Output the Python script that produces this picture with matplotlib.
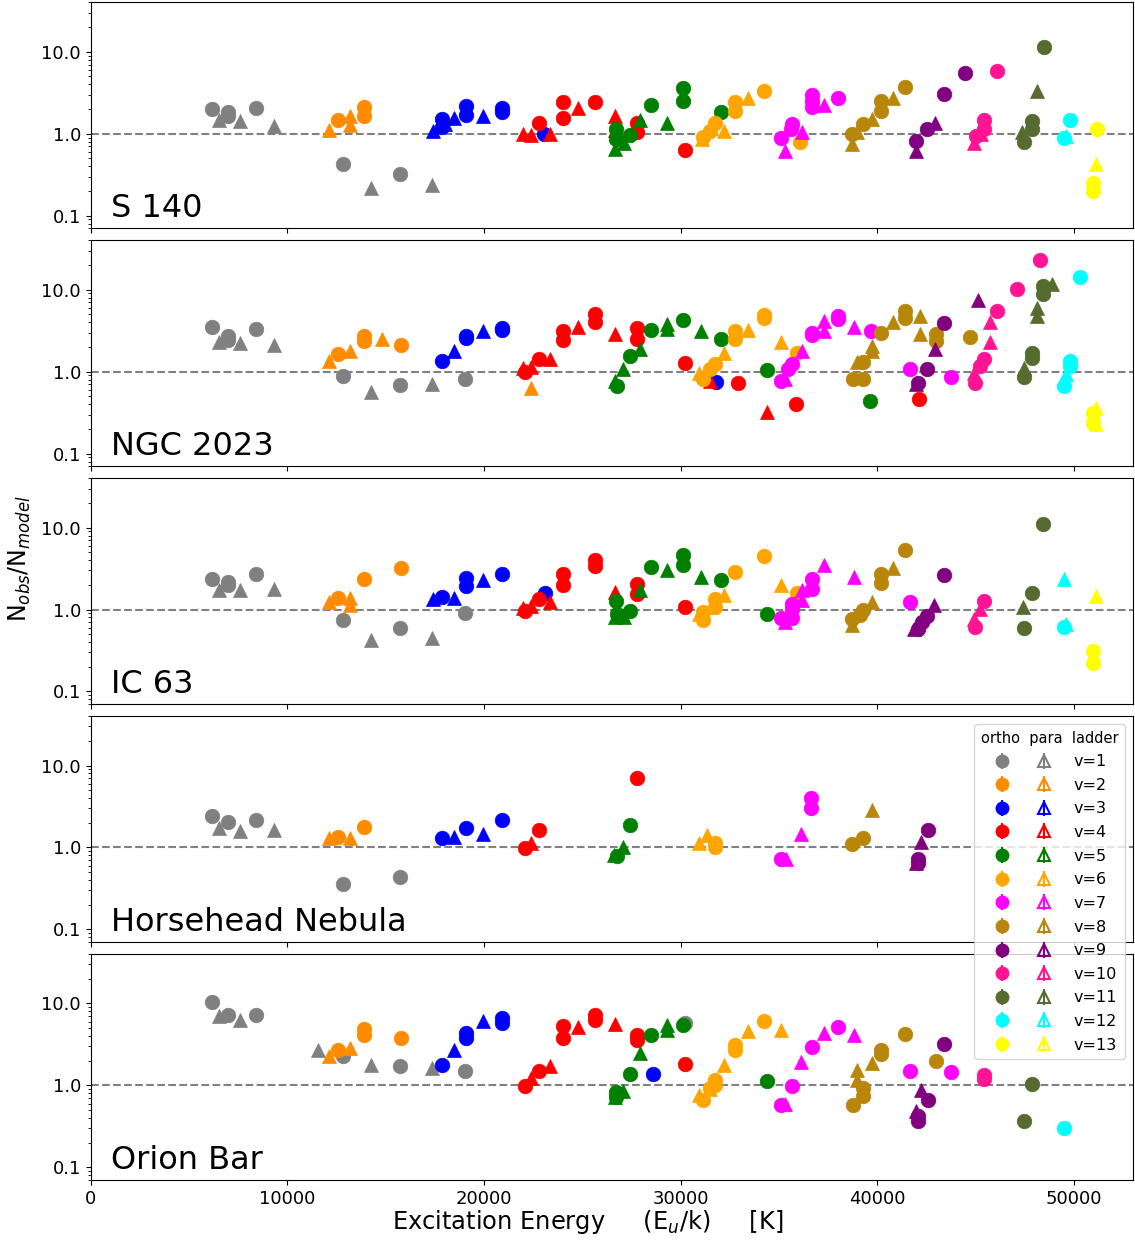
import matplotlib
matplotlib.use('Agg')
import matplotlib.pyplot as plt
from matplotlib.lines import Line2D
from matplotlib.collections import LineCollection
from matplotlib.container import ErrorbarContainer
from matplotlib.legend_handler import HandlerTuple
from matplotlib.ticker import FormatStrFormatter, NullFormatter

# colour of each vibrational ladder
ladder_colors = {1: 'grey', 2: 'darkorange', 3: 'blue', 4: 'red', 5: 'green',
                 6: 'orange', 7: 'magenta', 8: 'darkgoldenrod', 9: 'purple',
                 10: 'deeppink', 11: 'darkolivegreen', 12: 'cyan', 13: 'yellow'}

# N_obs/N_model per ladder: v -> (E_u/k [K], ratio)
s140_ortho = {
    1: ([6180, 6960, 6960, 8390, 12850, 15750], [1.98, 1.82, 1.66, 2.04, 0.43, 0.325]),
    2: ([12560, 13900, 13900], [1.47, 2.13, 1.66]),
    3: ([17860, 17860, 19090, 19090, 20910, 20910, 23070], [1.51, 1.22, 2.17, 1.70, 2.09, 1.85, 0.98]),
    4: ([22810, 24000, 24000, 25660, 27790, 27790, 30210], [1.37, 2.41, 1.55, 2.45, 1.34, 1.04, 0.64]),
    5: ([26700, 26700, 27450, 28520, 30120, 30120, 32080], [1.14, 0.86, 0.97, 2.26, 3.61, 2.53, 1.82]),
    6: ([31130, 31480, 31740, 32780, 32780, 34220, 36070], [0.92, 1.08, 1.34, 2.45, 1.91, 3.28, 0.80]),
    7: ([35130, 35630, 35690, 36690, 36690, 36690, 38020], [0.88, 1.15, 1.31, 2.96, 2.53, 2.10, 2.72]),
    8: ([38740, 39290, 40200, 40200, 41430], [0.99, 1.31, 2.53, 1.87, 3.74]),
    9: ([42000, 42520, 43380, 44470], [0.82, 1.14, 3.10, 5.45]),
    10: ([45040, 45420, 45420, 46120], [0.95, 1.48, 1.14, 5.87]),
    11: ([47460, 47900, 47900, 48480], [0.80, 1.44, 1.14, 11.5]),
    12: ([49500, 49810], [0.88, 1.47]),
    13: ([51200, 51000, 51000], [1.14, 0.25, 0.20]),
}
s140_para = {
    1: ([6500, 7600, 9320, 14260, 17350], [1.47, 1.44, 1.24, 0.217, 0.237]),
    2: ([12100, 13190, 13190], [1.11, 1.66, 1.29]),
    3: ([17430, 18030, 18450, 19940], [1.07, 1.31, 1.55, 1.66]),
    4: ([22010, 22390, 23340, 24780, 26650, 26650], [1.0, 0.97, 1.0, 2.04, 1.66, 1.11]),
    5: ([26650, 27130, 27950, 29290], [0.65, 0.78, 1.48, 1.37]),
    6: ([31090, 31560, 32210, 33440], [0.86, 1.19, 1.09, 2.70]),
    7: ([35300, 36170, 37300], [0.62, 1.06, 2.26]),
    8: ([38710, 38950, 39730, 40810], [0.75, 1.04, 1.51, 2.77]),
    9: ([42000, 42950], [0.62, 1.37]),
    10: ([44940, 45290], [0.78, 0.99]),
    11: ([47380, 48110], [1.04, 3.34]),
    12: ([49630], [0.95]),
    13: ([51120], [0.43]),
}

ngc2023_ortho = {
    1: ([6180, 6960, 6960, 8390, 12850, 15750, 19030], [3.54, 2.72, 2.43, 3.35, 0.89, 0.69, 0.81]),
    2: ([12560, 13900, 13900, 15780], [1.63, 2.72, 2.37, 2.09]),
    3: ([17860, 19090, 19090, 20910, 20910, 31790], [1.35, 2.72, 2.55, 3.44, 3.22, 0.75]),
    4: ([22100, 22810, 24000, 24000, 25660, 25660, 27790, 27790, 30210, 32900, 35850, 42120],
        [0.99, 1.44, 3.13, 2.43, 5.0, 4.03, 3.44, 2.53, 1.29, 0.73, 0.40, 0.46]),
    5: ([26790, 27450, 28520, 30120, 32080, 34380, 39630], [0.67, 1.55, 3.19, 4.27, 2.53, 1.05, 0.44]),
    6: ([31130, 31480, 31740, 32780, 32780, 34220, 34220, 35900], [0.81, 1.07, 1.23, 3.13, 2.48, 4.87, 4.5, 1.70]),
    7: ([35130, 35470, 35690, 36690, 36690, 38020, 38020, 39680, 41650, 43770],
        [0.77, 1.07, 1.23, 2.99, 2.8, 4.8, 4.4, 3.13, 1.09, 0.86]),
    8: ([38780, 39290, 39290, 40200, 41430, 41430, 42980, 42980, 44740],
        [0.82, 0.82, 1.31, 2.99, 5.5, 4.55, 2.85, 2.37, 2.67]),
    9: ([42080, 42520, 43380], [0.73, 1.07, 3.96]),
    10: ([45000, 45210, 45420, 46120, 47120, 48300], [0.73, 1.17, 1.41, 5.5, 10.1, 23.0]),
    11: ([47460, 47860, 47860, 48460, 48460], [0.85, 1.70, 1.48, 11.1, 8.77]),
    12: ([49500, 49810, 49810, 50300], [0.67, 1.35, 1.17, 14.3]),
    13: ([51000, 51000], [0.31, 0.235]),
}
ngc2023_para = {
    1: ([6500, 7600, 9320, 14260, 17350], [2.30, 2.26, 2.11, 0.57, 0.70]),
    2: ([12100, 13190, 14800, 22390], [1.35, 1.79, 2.53, 0.63]),
    3: ([18450, 19940], [1.79, 3.13]),
    4: ([21970, 22390, 23340, 24780, 26650, 31510, 34380], [1.12, 1.15, 1.41, 3.54, 2.85, 0.77, 0.325]),
    5: ([26650, 27050, 27950, 29290, 29290, 31060], [0.77, 1.07, 1.87, 3.78, 3.28, 3.13]),
    6: ([30960, 32210, 33440, 35090], [0.95, 1.67, 3.22, 2.30]),
    7: ([35300, 36170, 37300, 37300, 38810], [0.81, 1.79, 4.15, 3.13, 3.54]),
    8: ([38950, 39730, 39730, 40810, 42200, 42200], [1.31, 2.06, 1.79, 4.03, 4.76, 2.91]),
    9: ([42000, 42950, 45150], [0.70, 1.91, 7.5]),
    10: ([44940, 45730, 45730], [0.97, 4.03, 2.30]),
    11: ([47460, 48110, 48110, 48910], [1.12, 6.0, 4.76, 11.6]),
    12: ([49630], [0.93]),
    13: ([51120, 51120], [0.36, 0.23]),
}

ic63_ortho = {
    1: ([6180, 6960, 6960, 8390, 12850, 15750, 19030], [2.34, 2.17, 1.98, 2.70, 0.74, 0.60, 0.92]),
    2: ([12560, 13900, 15780], [1.39, 2.34, 3.22]),
    3: ([17860, 19090, 19090, 20910, 23100], [1.43, 2.43, 1.94, 2.70, 1.61]),
    4: ([22100, 22810, 24000, 24000, 25660, 25660, 27790, 27790, 30210],
        [0.95, 1.36, 2.75, 1.98, 4.0, 3.41, 2.07, 1.57, 1.08]),
    5: ([26700, 26790, 27450, 28520, 30120, 30120, 32080, 34380], [1.26, 0.89, 0.95, 3.31, 4.6, 3.47, 2.32, 0.89]),
    6: ([31130, 31130, 31740, 31740, 32780, 34220, 35900], [0.74, 0.94, 1.08, 1.36, 2.88, 4.47, 1.61]),
    7: ([35130, 35660, 35690, 35690, 36690, 36690, 41650], [0.79, 0.78, 1.18, 1.03, 2.39, 1.77, 1.22]),
    8: ([38740, 39110, 39290, 40200, 40200, 41430], [0.76, 0.85, 0.98, 2.75, 2.13, 5.3]),
    9: ([42080, 42280, 42520, 43380], [0.58, 0.71, 0.84, 2.67]),
    10: ([45000, 45420], [0.61, 1.26]),
    11: ([47460, 47860, 48460], [0.60, 1.60, 11.2]),
    12: ([49480], [0.61]),
    13: ([51000, 51000], [0.31, 0.22]),
}
ic63_para = {
    1: ([6500, 7600, 9320, 14260, 17350], [1.72, 1.72, 1.80, 0.42, 0.45]),
    2: ([12100, 13190, 13190], [1.22, 1.39, 1.13]),
    3: ([17430, 18450, 19940], [1.34, 1.40, 2.28]),
    4: ([22010, 22390, 23340, 26650], [1.05, 1.11, 1.22, 1.64]),
    5: ([26650, 27130, 27950, 29290, 31060], [0.81, 0.81, 1.72, 3.02, 2.50]),
    6: ([30960, 31560, 32210, 35090], [0.89, 1.08, 1.52, 1.98]),
    7: ([35300, 36170, 36170, 37300, 38810], [0.71, 1.72, 1.30, 3.54, 2.50]),
    8: ([38710, 39730, 40810], [0.64, 1.24, 3.22]),
    9: ([41890, 42910], [0.58, 1.13]),
    10: ([44940, 45210], [0.76, 1.03]),
    11: ([47400], [1.08]),
    12: ([49480, 49630], [2.34, 0.66]),
    13: ([51120], [1.47]),
}

horsehead_ortho = {
    1: ([6180, 6960, 8390, 12850, 15750], [2.41, 2.02, 2.19, 0.36, 0.44]),
    2: ([12560, 13900], [1.35, 1.79]),
    3: ([17860, 19090, 20910], [1.31, 1.74, 2.15]),
    4: ([22100, 22810, 27770], [0.99, 1.63, 7.07]),
    5: ([26790, 27450], [0.79, 1.87]),
    6: ([31740, 31740], [1.12, 1.02]),
    7: ([35130, 36650, 36650], [0.72, 4.03, 2.99]),
    8: ([38740, 39290], [1.09, 1.32]),
    9: ([42080, 42080, 42570], [0.73, 0.64, 1.63]),
}
horsehead_para = {
    1: ([6500, 7600, 9320], [1.71, 1.58, 1.63]),
    2: ([12100, 13190], [1.31, 1.31]),
    3: ([18450, 19940], [1.35, 1.44]),
    4: ([22390], [1.12]),
    5: ([26620, 27050], [0.81, 1.02]),
    6: ([30960, 31360], [1.12, 1.41]),
    7: ([35360, 36140], [0.73, 1.44]),
    8: ([39730], [2.85]),
    9: ([42000, 42250], [0.64, 1.17]),
}

orion_ortho = {
    1: ([6180, 6960, 8390, 12850, 15750, 19030, 30200], [10.4, 7.28, 7.28, 2.26, 1.70, 1.48, 5.7]),
    2: ([12560, 13900, 13900, 15780], [2.67, 4.86, 4.15, 3.78]),
    3: ([17860, 19090, 19090, 20910, 20910, 28610], [1.79, 4.35, 3.78, 6.62, 5.76, 1.37]),
    4: ([22100, 22810, 24000, 24000, 25660, 25660, 27790, 27790, 30210],
        [0.99, 1.48, 5.25, 3.78, 7.28, 6.2, 4.15, 3.60, 1.84]),
    5: ([26700, 26700, 27450, 28520, 30120, 34380], [0.73, 0.82, 1.37, 4.15, 5.49, 1.12]),
    6: ([31130, 31480, 31740, 31740, 32780, 32780, 34220], [0.66, 0.93, 1.17, 1.02, 3.13, 2.72, 6.03]),
    7: ([35130, 35690, 36690, 38020, 41650, 43770], [0.58, 0.97, 2.91, 5.14, 1.48, 1.44]),
    8: ([38780, 39290, 39290, 40200, 40200, 41430, 42980], [0.57, 0.93, 0.75, 2.72, 2.43, 4.27, 2.0]),
    9: ([42080, 42080, 42570, 43380], [0.42, 0.37, 0.67, 3.19]),
    10: ([45420, 45420], [1.35, 1.19]),
    11: ([47460, 47860], [0.37, 1.04]),
    12: ([49500], [0.30]),
}
orion_para = {
    1: ([6500, 7600, 11540, 14260, 17350], [6.94, 6.32, 2.72, 1.79, 1.63]),
    2: ([12100, 13190], [2.30, 2.85]),
    3: ([18450, 19940], [2.72, 6.03]),
    4: ([22390, 23340, 24780, 26650], [1.23, 1.74, 5.14, 5.65]),
    5: ([26650, 27050, 27950, 29290, 29290], [0.73, 0.85, 2.48, 5.49, 4.77]),
    6: ([30960, 31480, 32210, 33440, 35130], [0.77, 0.89, 1.79, 4.55, 4.77]),
    7: ([35300, 36140, 37300, 38810], [0.60, 1.91, 4.35, 4.15]),
    8: ([38990, 38990, 39730], [1.52, 1.17, 1.87]),
    9: ([42000, 42250], [0.48, 0.87]),
}

regions = ['S 140', 'NGC 2023', 'IC 63', 'Horsehead Nebula', 'Orion Bar']
ortho_data = [s140_ortho, ngc2023_ortho, ic63_ortho, horsehead_ortho, orion_ortho]
para_data = [s140_para, ngc2023_para, ic63_para, horsehead_para, orion_para]

fig, axes = plt.subplots(5, 1, figsize=(11.35, 12.43), dpi=100, sharex=True,
                         gridspec_kw=dict(left=0.080, right=0.998, top=0.998,
                                          bottom=0.0507, hspace=0.053))

for ax, name, ortho, para in zip(axes, regions, ortho_data, para_data):
    ax.axhline(1.0, color='grey', ls='--', lw=1.5, zorder=1)
    for v in range(1, 14):
        c = ladder_colors[v]
        if v in ortho:
            e, r = ortho[v]
            ax.plot(e, r, 'o', color=c, ms=10.5, mew=0.5, ls='none', zorder=2)
        if v in para:
            e, r = para[v]
            ax.plot(e, r, '^', color=c, ms=10.5, mew=0.5, ls='none', zorder=2)
    ax.set_yscale('log')
    ax.set_ylim(0.07, 40)
    ax.yaxis.set_major_formatter(FormatStrFormatter('%.1f'))
    ax.yaxis.set_minor_formatter(NullFormatter())
    ax.tick_params(labelsize=13)
    ax.text(0.019, 0.05, name, transform=ax.transAxes, fontsize=23)

axes[-1].set_xlim(0, 53000)
axes[-1].set_xticks([0, 10000, 20000, 30000, 40000, 50000])

# legend: filled circle = ortho, open triangle = para, one row per ladder
handles, labels = [], []
for v in range(1, 14):
    c = ladder_colors[v]
    o_line = Line2D([], [], marker='o', ls='none', color=c, ms=9)
    p_line = Line2D([], [], marker='^', ls='none', color=c, mfc='none', ms=9, mew=1.5)
    o_err = ErrorbarContainer((o_line, (), (LineCollection([], colors=c, linewidths=1.5),)),
                              has_xerr=False, has_yerr=True)
    p_err = ErrorbarContainer((p_line, (), (LineCollection([], colors=c, linewidths=1.5),)),
                              has_xerr=False, has_yerr=True)
    handles.append((o_err, p_err))
    labels.append('v=%d' % v)

axes[3].legend(handles, labels, loc='upper right', fontsize=11.5,
               title='ortho  para  ladder', title_fontsize=10.5,
               handlelength=5.08, handletextpad=0.59, labelspacing=0.54,
               handler_map={tuple: HandlerTuple(ndivide=None, pad=0.175)})
axes[3].set_zorder(3)

fig.text(0.0176, 0.551, r'N$_{obs}$/N$_{model}$', rotation=90, fontsize=17,
         ha='center', va='center')
fig.text(0.518, 0.017, r'Excitation Energy     (E$_u$/k)     [K]', fontsize=17.4,
         ha='center', va='center')

fig.savefig('out.png', dpi=100)
